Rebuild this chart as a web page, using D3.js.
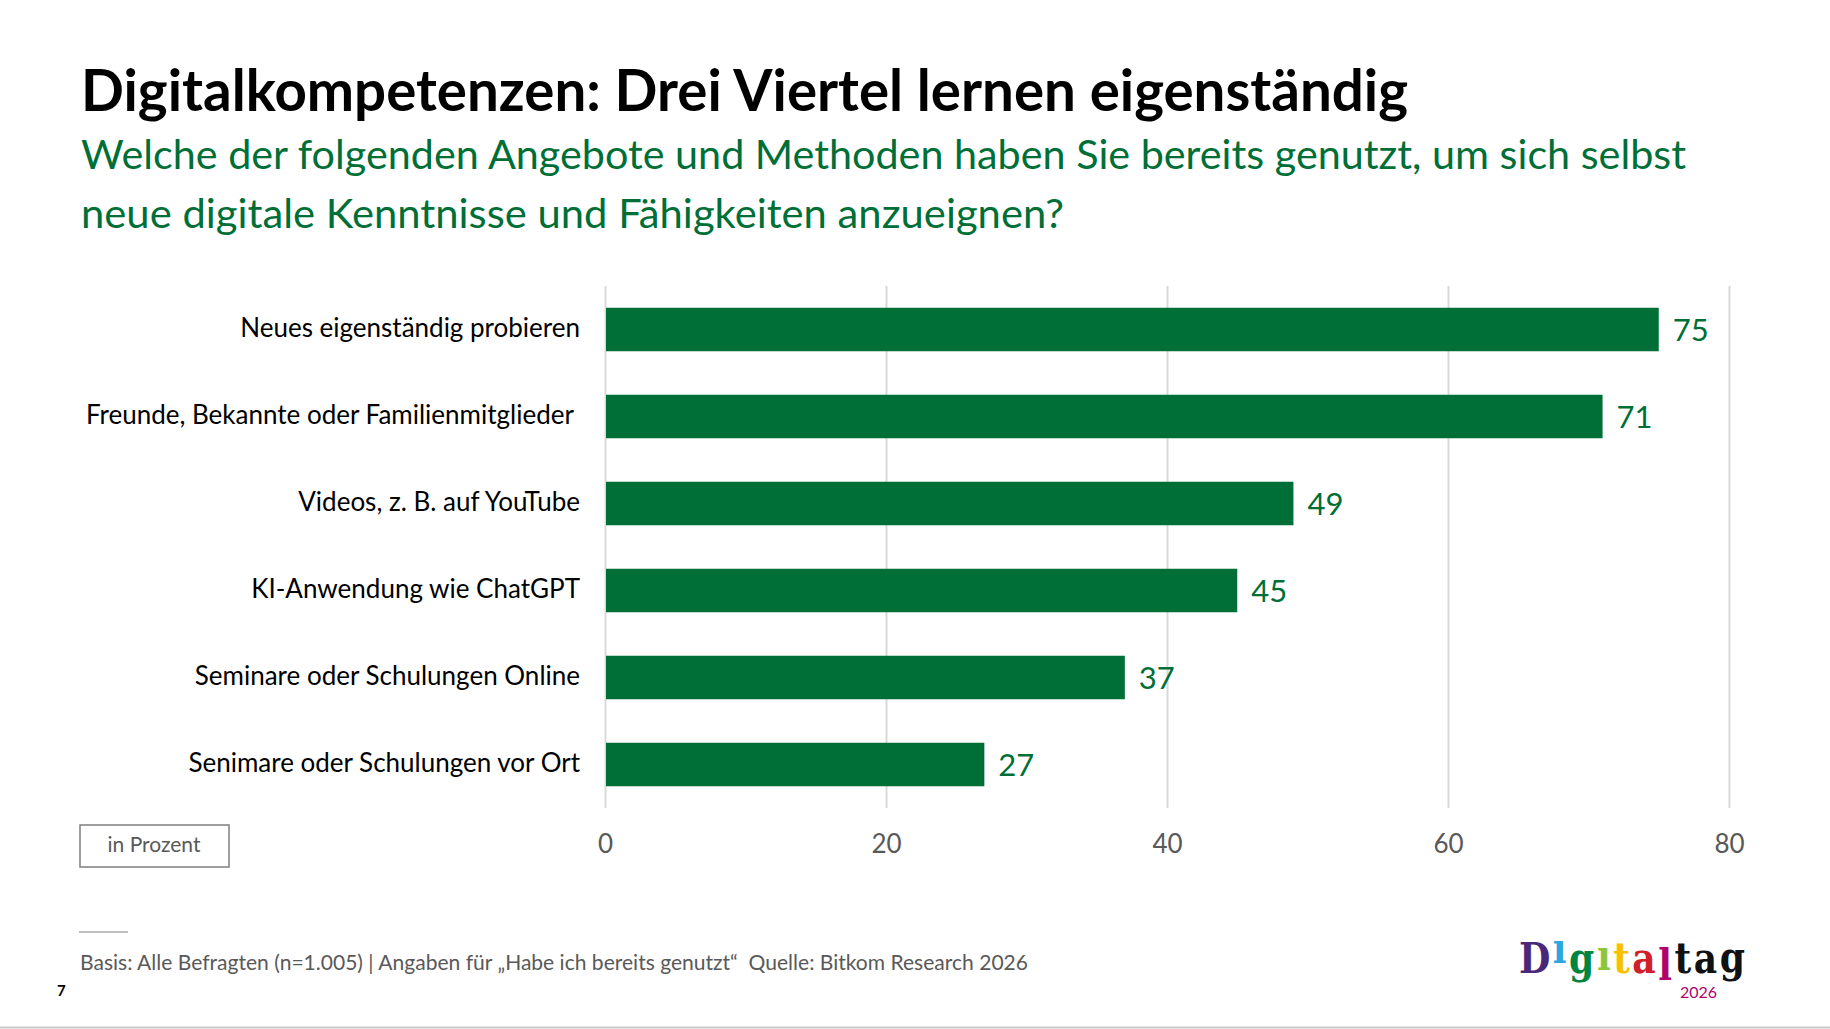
<!DOCTYPE html>
<html lang="de">
<head>
    <meta charset="utf-8">
    <title>Digitalkompetenzen</title>
    <script src="https://d3js.org/d3.v7.min.js"></script>
    <style>
        body { margin: 0; background: #fff; }
        svg { display: block; font-family: Lato, "Noto Sans", sans-serif; }
    </style>
</head>
<body>
<script>
    // data
    const categories = [
        "Neues eigenständig probieren",
        "Freunde, Bekannte oder Familienmitglieder\u00a0",
        "Videos, z. B. auf YouTube",
        "KI-Anwendung wie ChatGPT",
        "Seminare oder Schulungen Online",
        "Senimare oder Schulungen vor Ort"
    ];
    const values = [75, 71, 49, 45, 37, 27];
    const tickValues = [0, 20, 40, 60, 80];

    const title = "Digitalkompetenzen: Drei Viertel lernen eigenständig";
    const subtitle = [
        "Welche der folgenden Angebote und Methoden haben Sie bereits genutzt, um sich selbst",
        "neue digitale Kenntnisse und Fähigkeiten anzueignen?"
    ];
    const unitLabel = "in Prozent";
    const footnote = "Basis: Alle Befragten (n=1.005) | Angaben für „Habe ich bereits genutzt“  Quelle: Bitkom Research 2026";

    let w = 1830;
    let h = 1029;
    const green = "#006f37";
    const grey = "#595959";

    let svg = d3.select("body").append("svg")
        .attr("width", w)
        .attr("height", h);

    // set text to the width it takes on the slide (the original font is different)
    function fit(sel, width) {
        sel.attr("textLength", width).attr("lengthAdjust", "spacingAndGlyphs");
        return sel;
    }

    // header
    svg.append("text")
        .attr("x", 81).attr("y", 111)
        .attr("font-size", 58).attr("font-weight", 700)
        .attr("fill", "#000")
        .text(title)
        .call(fit, 1327);

    subtitle.forEach(function (line, i) {
        svg.append("text")
            .attr("x", 81).attr("y", 169 + i * 59)
            .attr("font-size", 41)
            .attr("fill", green)
            .text(line)
            .call(fit, i == 0 ? 1605 : 983);
    });

    // scales
    let x = d3.scaleLinear().domain([0, 80]).range([605, 1729]);
    let y = d3.scaleBand().domain(categories).range([286, 808])
        .paddingInner(0.5).paddingOuter(0.25);

    // grid lines
    let grid = svg.append("g")
        .attr("transform", "translate(0,808)")
        .call(d3.axisBottom(x).tickValues(tickValues).tickSize(-(808 - 286)).tickFormat(""));
    grid.select(".domain").remove();
    grid.selectAll("line").attr("stroke", "#d9d9d9").attr("stroke-width", 2);

    // tick labels
    let axis = svg.append("g")
        .attr("transform", "translate(0,808)")
        .call(d3.axisBottom(x).tickValues(tickValues).tickSize(0).tickPadding(27));
    axis.select(".domain").remove();
    axis.selectAll("text")
        .attr("font-family", "Lato, sans-serif")
        .attr("font-size", 26)
        .attr("fill", grey);

    // bars
    svg.selectAll("rect.bar")
        .data(values)
        .enter()
        .append("rect")
        .attr("class", "bar")
        .attr("x", x(0) + 1)
        .attr("y", function (d, i) { return y(categories[i]); })
        .attr("width", function (d) { return x(d) - x(0) - 1; })
        .attr("height", y.bandwidth())
        .attr("fill", green);

    // value labels
    svg.selectAll("text.val")
        .data(values)
        .enter()
        .append("text")
        .attr("class", "val")
        .attr("x", function (d) { return x(d) + 14; })
        .attr("y", function (d, i) { return y(categories[i]) + y.bandwidth() / 2 + 11; })
        .attr("font-size", 31)
        .attr("fill", green)
        .text(function (d) { return d; });

    // category labels
    svg.selectAll("text.cat")
        .data(categories)
        .enter()
        .append("text")
        .attr("class", "cat")
        .attr("x", 580)
        .attr("y", function (d) { return y(d) + y.bandwidth() / 2 + 7; })
        .attr("text-anchor", "end")
        .attr("font-size", 26)
        .attr("fill", "#000")
        .style("white-space", "pre")
        .text(function (d) { return d; });

    // unit box
    svg.append("rect")
        .attr("x", 80).attr("y", 825)
        .attr("width", 149).attr("height", 42)
        .attr("fill", "none")
        .attr("stroke", "#7f7f7f")
        .attr("stroke-width", 1.5);
    svg.append("text")
        .attr("x", 154).attr("y", 852)
        .attr("text-anchor", "middle")
        .attr("font-size", 21)
        .attr("fill", grey)
        .text(unitLabel);

    // footnote
    svg.append("line")
        .attr("x1", 79).attr("x2", 128)
        .attr("y1", 932).attr("y2", 932)
        .attr("stroke", "#bfbfbf").attr("stroke-width", 2);
    svg.append("text")
        .attr("x", 80).attr("y", 970)
        .attr("font-size", 21)
        .attr("fill", grey)
        .style("white-space", "pre")
        .text(footnote)
        .call(fit, 948);

    svg.append("text")
        .attr("x", 57).attr("y", 996)
        .attr("font-size", 15)
        .attr("font-weight", 700)
        .attr("fill", "#000")
        .text("7");

    svg.append("line")
        .attr("x1", 0).attr("x2", w)
        .attr("y1", 1027.5).attr("y2", 1027.5)
        .attr("stroke", "#c8c8c8").attr("stroke-width", 2);

    // Digitaltag logo, one letter each so they keep their own colour and height
    let logoLetters = [
        ["D", "#4a2879", 973],
        ["ı", "#2ea7e0", 963],
        ["g", "#00853f", 973],
        ["ı", "#8cc63f", 970],
        ["t", "#f7c100", 973],
        ["a", "#d0202a", 973],
        ["l", "#b0006b", 980],
        ["t", "#111", 973],
        ["a", "#111", 973],
        ["g", "#111", 972]
    ];
    let logo = svg.append("g");
    let letters = logo.selectAll("text.logo")
        .data(logoLetters)
        .enter()
        .append("text")
        .attr("class", "logo")
        .attr("y", function (d) { return d[2]; })
        .attr("font-family", "DejaVu Serif, serif")
        .attr("font-size", 43)
        .attr("font-weight", 700)
        .attr("fill", function (d) { return d[1]; })
        .text(function (d) { return d[0]; });

    // lay the letters side by side, then squeeze the row into the logo width
    let widths = letters.nodes().map(function (n) { return n.getComputedTextLength(); });
    let gap = 3;
    let pos = 0;
    letters.attr("x", function (d, i) {
        let p = pos;
        pos += widths[i] + gap;
        return p;
    });
    let sx = 226 / (pos - gap);
    logo.attr("transform", "translate(1519,0) scale(" + sx + ",1)");

    svg.append("text")
        .attr("x", 1680).attr("y", 998)
        .attr("font-size", 16)
        .attr("fill", "#b0006b")
        .text("2026");
</script>
</body>
</html>
